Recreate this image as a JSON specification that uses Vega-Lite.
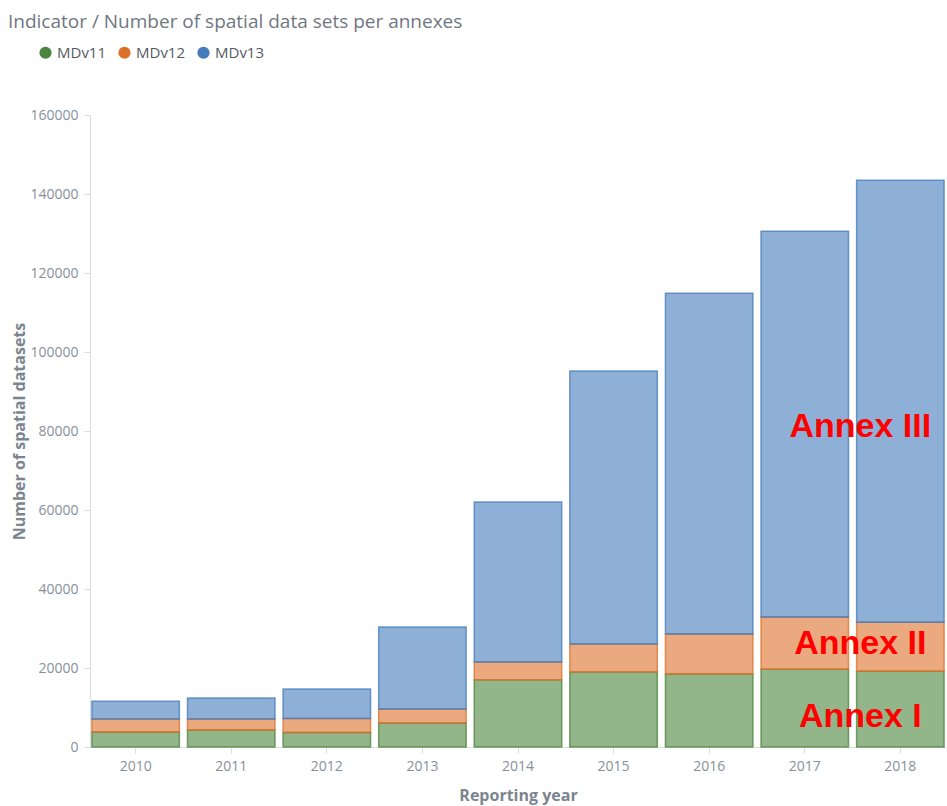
{
  "$schema": "https://vega.github.io/schema/vega-lite/v6.json",
  "autosize": {"type": "none"},
  "width": 856,
  "height": 632,
  "padding": {"left": 90, "top": 115, "right": 1, "bottom": 59},
  "background": "white",
  "title": {
    "text": "Indicator / Number of spatial data sets per annexes",
    "anchor": "start",
    "frame": "bounds",
    "font": "Open Sans",
    "fontSize": 19,
    "fontWeight": "normal",
    "color": "#6f7781",
    "offset": 13,
    "dx": -4
  },
  "config": {
    "view": {"stroke": null},
    "font": "Open Sans",
    "axis": {
      "labelFont": "Open Sans",
      "labelFontSize": 14,
      "labelColor": "#86909b",
      "titleFont": "Open Sans",
      "titleFontSize": 16,
      "titleFontWeight": "bold",
      "titleColor": "#7b858f",
      "domainColor": "#d9dde1",
      "tickColor": "#d9dde1",
      "grid": false
    }
  },
  "datasets": {
    "bars": [
      {"year": "2010", "version": "MDv11", "count": 3800},
      {"year": "2010", "version": "MDv12", "count": 3300},
      {"year": "2010", "version": "MDv13", "count": 4500},
      {"year": "2011", "version": "MDv11", "count": 4300},
      {"year": "2011", "version": "MDv12", "count": 2800},
      {"year": "2011", "version": "MDv13", "count": 5300},
      {"year": "2012", "version": "MDv11", "count": 3700},
      {"year": "2012", "version": "MDv12", "count": 3500},
      {"year": "2012", "version": "MDv13", "count": 7500},
      {"year": "2013", "version": "MDv11", "count": 6100},
      {"year": "2013", "version": "MDv12", "count": 3500},
      {"year": "2013", "version": "MDv13", "count": 20800},
      {"year": "2014", "version": "MDv11", "count": 17000},
      {"year": "2014", "version": "MDv12", "count": 4500},
      {"year": "2014", "version": "MDv13", "count": 40500},
      {"year": "2015", "version": "MDv11", "count": 19000},
      {"year": "2015", "version": "MDv12", "count": 7100},
      {"year": "2015", "version": "MDv13", "count": 69100},
      {"year": "2016", "version": "MDv11", "count": 18500},
      {"year": "2016", "version": "MDv12", "count": 10100},
      {"year": "2016", "version": "MDv13", "count": 86300},
      {"year": "2017", "version": "MDv11", "count": 19700},
      {"year": "2017", "version": "MDv12", "count": 13200},
      {"year": "2017", "version": "MDv13", "count": 97700},
      {"year": "2018", "version": "MDv11", "count": 19200},
      {"year": "2018", "version": "MDv12", "count": 12400},
      {"year": "2018", "version": "MDv13", "count": 111900}
    ],
    "labels": [
      {"year": "2018", "count": 78500, "label": "Annex III"},
      {"year": "2018", "count": 23500, "label": "Annex II"},
      {"year": "2018", "count": 5100, "label": "Annex I"}
    ]
  },
  "encoding": {
    "x": {
      "field": "year",
      "type": "nominal",
      "scale": {"paddingInner": 0.085, "paddingOuter": 0.02},
      "axis": {"title": "Reporting year", "labelAngle": 0, "labelPadding": 6, "tickSize": 6, "titlePadding": 14}
    },
    "y": {
      "field": "count",
      "type": "quantitative",
      "scale": {"domain": [0, 160000]},
      "axis": {"title": "Number of spatial datasets", "values": [0, 20000, 40000, 60000, 80000, 100000, 120000, 140000, 160000], "format": "d", "tickSize": 6, "labelPadding": 6, "titlePadding": 2}
    }
  },
  "layer": [
    {
      "data": {"name": "bars"},
      "mark": {"type": "bar", "fillOpacity": 0.6, "strokeWidth": 1.5, "strokeOpacity": 0.75},
      "encoding": {
        "color": {
          "field": "version",
          "type": "nominal",
          "scale": {"domain": ["MDv11", "MDv12", "MDv13"], "range": ["#4b843c", "#dc702a", "#437bbb"]},
          "legend": {
            "title": null,
            "orient": "none",
            "direction": "horizontal",
            "legendX": -52,
            "legendY": -70,
            "symbolType": "circle",
            "symbolSize": 150,
            "symbolOpacity": 1,
            "symbolStrokeWidth": 0,
            "labelFont": "Open Sans",
            "labelFontSize": 15,
            "labelColor": "#555b63",
            "labelOffset": 4,
            "columnPadding": 10
          }
        },
        "stroke": {
          "field": "version",
          "type": "nominal",
          "scale": {"domain": ["MDv11", "MDv12", "MDv13"], "range": ["#4b843c", "#dc702a", "#437bbb"]},
          "legend": null
        },
        "order": {"field": "version"}
      }
    },
    {
      "data": {"name": "labels"},
      "mark": {"type": "text", "font": "Liberation Sans", "fontWeight": "bold", "fontSize": 34, "color": "#ff0000", "align": "center", "baseline": "alphabetic", "dx": -40},
      "encoding": {
        "text": {"field": "label", "type": "nominal"}
      }
    }
  ]
}
